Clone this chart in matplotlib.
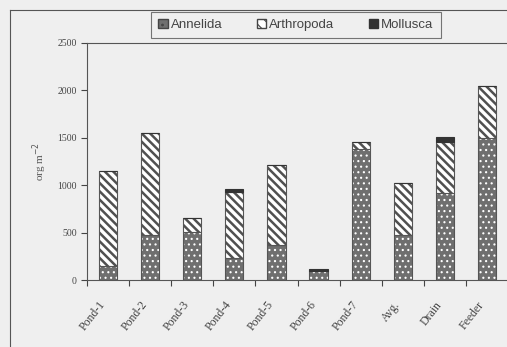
import matplotlib.pyplot as plt
import numpy as np
from matplotlib.lines import Line2D
from matplotlib.patches import Patch

sites = ['Pond-1', 'Pond-2', 'Pond-3', 'Pond-4', 'Pond-5', 'Pond-6', 'Pond-7', 'Avg.', 'Drain', 'Feeder']
annelida = [150, 475, 505, 230, 370, 100, 1380, 475, 915, 1500]
arthropoda = [995, 1075, 145, 700, 845, 0, 80, 545, 540, 550]
mollusca = [0, 0, 0, 30, 0, 20, 0, 0, 50, 0]

bg = '#efefef'
edge = '#555555'
fig = plt.figure(figsize=(5.07, 3.47), dpi=100, facecolor=bg)
ax = fig.add_axes([87 / 507, 1 - 280 / 347, 421 / 507, 237 / 347])
ax.set_facecolor(bg)

x = np.arange(len(sites))
w = 0.43
a = np.array(annelida)
b = np.array(arthropoda)
c = np.array(mollusca)

# annelida: gray with white dots
plt.rcParams['hatch.linewidth'] = 0.8
ax.bar(x, a, w, color='#6f6f6f', edgecolor='white', hatch='...', linewidth=0)
ax.bar(x, a, w, fill=False, edgecolor=edge, linewidth=0.8)
# arthropoda: diagonal stripes
plt.rcParams['hatch.linewidth'] = 1.8
ax.bar(x, b, w, bottom=a, color='white', edgecolor='#505050', hatch='\\\\\\\\', linewidth=0)
ax.bar(x, b, w, bottom=a, fill=False, edgecolor=edge, linewidth=0.8)
# mollusca: solid
ax.bar(x, c, w, bottom=a + b, color='#333333', edgecolor='#333333', linewidth=0.8)

ax.set_xlim(-0.5, len(sites) - 0.5)
ax.set_ylim(0, 2500)
ax.set_yticks([0, 500, 1000, 1500, 2000, 2500])
ax.tick_params(axis='y', direction='out', length=4, width=0.8, colors='#444444',
               labelsize=7, labelcolor='#444444')
ax.set_xticks(np.arange(len(sites) + 1) - 0.5)
ax.set_xticklabels([])
ax.tick_params(axis='x', which='major', direction='out', length=4, width=0.8, colors='#444444')
ax.set_xticks(x, minor=True)
ax.set_xticklabels(sites, minor=True, rotation=52, ha='right', va='bottom',
                   fontsize=8.5, color='#444444', family='Liberation Serif',
                   rotation_mode='anchor')
ax.tick_params(axis='x', which='minor', length=0, pad=19)
for lab in ax.get_yticklabels():
    lab.set_family('Liberation Serif')

for s in ax.spines.values():
    s.set_color(edge)
    s.set_linewidth(0.8)

ax.set_ylabel('org m$^{-2}$', fontsize=8, color='#555555', family='Liberation Serif', labelpad=6)

plt.rcParams['hatch.linewidth'] = 0.8
handles = [Patch(facecolor='#6f6f6f', edgecolor='#444444', hatch='..'),
           Patch(facecolor='white', edgecolor='#444444', hatch='\\\\\\'),
           Patch(facecolor='#333333', edgecolor='#333333')]
leg = fig.legend(handles, ['Annelida', 'Arthropoda', 'Mollusca'], ncol=3,
                 loc='center', bbox_to_anchor=(296 / 507, 1 - 25 / 347),
                 prop={'family': 'Liberation Sans', 'size': 9.5}, frameon=True,
                 fancybox=False, edgecolor=edge, facecolor=bg,
                 handlelength=0.7, handleheight=0.7, handletextpad=0.25,
                 columnspacing=2.6, borderpad=0.55, labelcolor='#444444')
leg.get_frame().set_linewidth(0.8)

# outer chart border
fig.add_artist(Line2D([10 / 507, 10 / 507], [0, 1 - 10 / 347], transform=fig.transFigure,
                      color=edge, linewidth=0.8))
fig.add_artist(Line2D([10 / 507, 1], [1 - 10 / 347, 1 - 10 / 347], transform=fig.transFigure,
                      color=edge, linewidth=0.8))

fig.savefig('out.png', dpi=100, facecolor=bg)
